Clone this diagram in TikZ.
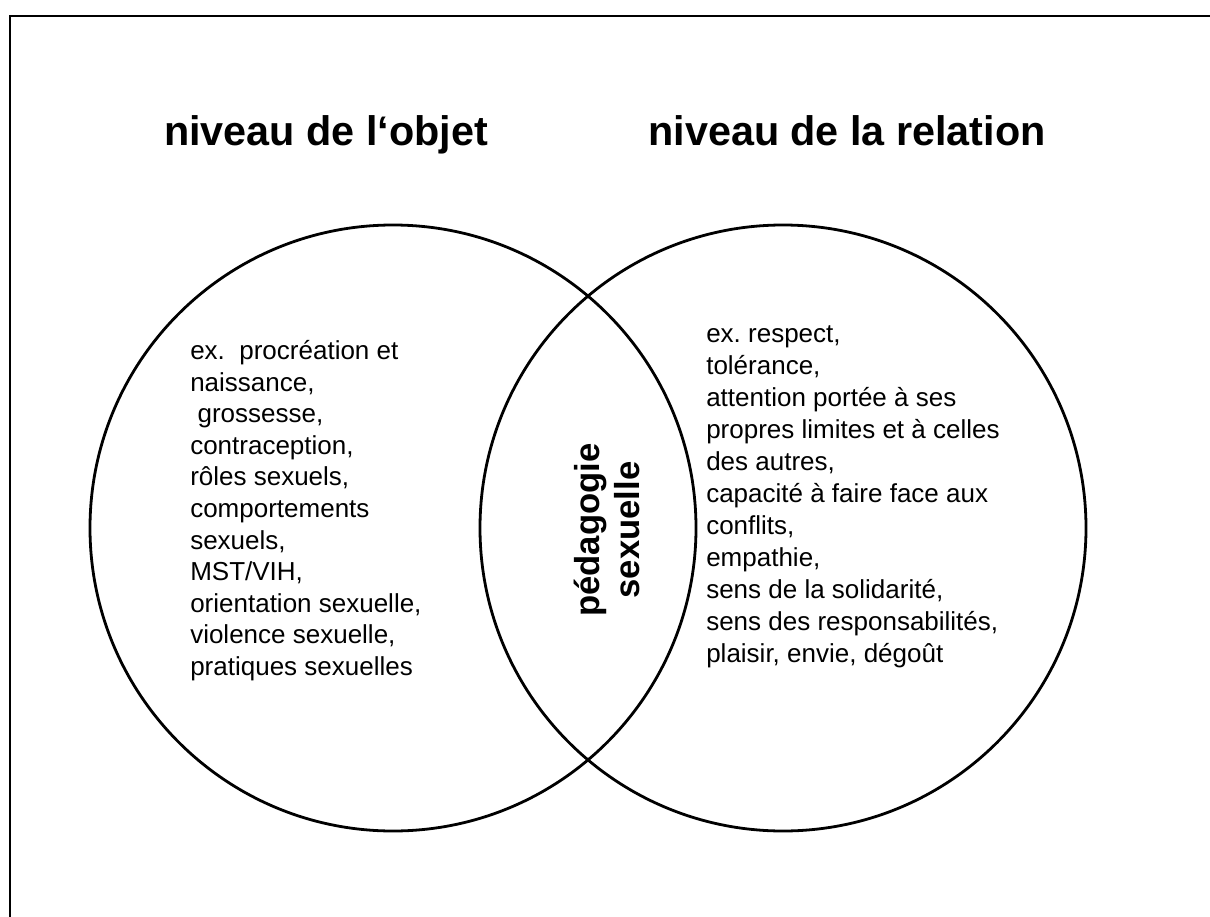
\documentclass[tikz,border=0pt]{standalone}
\usepackage{fontspec}
\setmainfont{Liberation Sans}
\usepackage{tikz}
\frenchspacing

\tikzset{
  titre/.style={anchor=base,inner sep=0.75pt,font=\fontsize{31}{37}\selectfont\bfseries},
  liste/.style={anchor=north west,inner sep=0.75pt,align=left},
  cercle/.style={line width=2.1pt},
}

\begin{document}
\begin{tikzpicture}[x=0.75pt,y=0.75pt,yscale=-1,xscale=1]
\useasboundingbox (0,0) rectangle (1210,917);

%Frame
\draw [line width=2pt] (10,917) -- (10,16) -- (1210,16) ;

%Shape: Circle (objet)
\draw [cercle] (393,528) circle [radius=303] ;
%Shape: Circle (relation)
\draw [cercle] (783,528) circle [radius=303] ;

% Text Node
\node [titre] (titreobjet) at (326,145) {niveau de l‘objet};
% Text Node
\node [titre] (titrerelation) at (847,145) {niveau de la relation};

% Text Node
\node [liste,font=\fontsize{19.5}{23.7}\selectfont] (objet) at (189,339)
  {ex.\ \ procréation et\\ naissance,\\ \hspace*{0.28em}grossesse,\\ contraception,\\ rôles sexuels,\\
   comportements\\ sexuels,\\ MST/VIH,\\ orientation sexuelle,\\ violence sexuelle,\\ pratiques sexuelles};
% Text Node
\node [liste,font=\fontsize{19.5}{24}\selectfont] (relation) at (705,324)
  {ex. respect,\\ tolérance,\\ attention portée à ses\\ propres limites et à celles\\ des autres,\\
   capacité à faire face aux\\ conflits,\\ empathie,\\ sens de la solidarité,\\ sens des responsabilités,\\ plaisir, envie, dégoût};

% Text Node
\node [rotate=90,align=center,inner sep=0.75pt,font=\fontsize{26}{29.5}\selectfont\bfseries] (pedagogie) at (607,530)
  {pédagogie\\ sexuelle};

\end{tikzpicture}
\end{document}
